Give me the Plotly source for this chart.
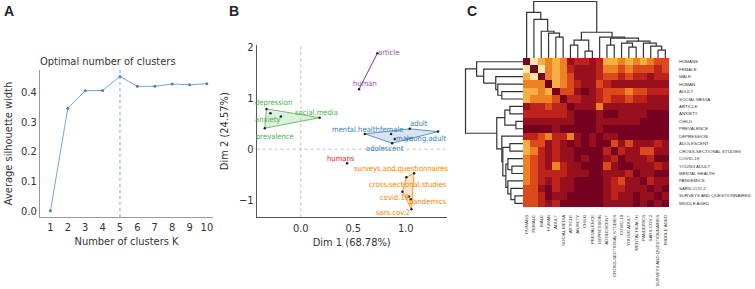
import plotly.graph_objects as go

W, H = 755, 289
def fx(x): return x / W
def fy(y): return 1 - y / H

# ---------------- Panel A data ----------------
k_values = [1, 2, 3, 4, 5, 6, 7, 8, 9, 10]
silhouette = [0.0, 0.346, 0.405, 0.406, 0.453, 0.420, 0.420, 0.428, 0.425, 0.429]
optimal_k = 5

# ---------------- Panel B data ----------------
terms = ["article", "human",
         "depression", "child", "anxiety", "prevalence", "social.media",
         "mental.health", "female", "adult", "young.adult", "male", "adolescent",
         "humans",
         "surveys.and.questionnaires", "cross.sectional.studies", "covid.19",
         "pandemics", "sars.cov.2", "middle.aged"]
dim1 = [0.73, 0.555,
        -0.327, -0.289, -0.19, -0.343, 0.18,
        0.61, 0.86, 1.038, 1.308, 0.895, 0.87,
        0.441,
        1.079, 1.006, 0.968, 1.048, 1.054, 1.031]
dim2 = [1.89, 1.181,
        0.793, 0.709, 0.642, 0.413, 0.62,
        0.301, 0.30, 0.40, 0.346, 0.203, 0.118,
        -0.276,
        -0.472, -0.551, -0.835, -0.984, -1.181, -0.93]
cluster = [5, 5,
           3, 3, 3, 3, 3,
           2, 2, 2, 2, 2, 2,
           1,
           4, 4, 4, 4, 4, 4]
shown_label = [True, True,
               True, False, True, True, True,
               True, True, True, True, True, True,
               True,
               True, True, True, True, True, False]

# ---------------- Panel C data ----------------
heat_labels = ["HUMANS", "FEMALE", "MALE", "HUMAN", "ADULT", "SOCIAL MEDIA",
               "ARTICLE", "ANXIETY", "CHILD", "PREVALENCE", "DEPRESSION",
               "ADOLESCENT", "CROSS-SECTIONAL STUDIES", "COVID-19", "YOUNG ADULT",
               "MENTAL HEALTH", "PANDEMICS", "SARS-COV-2",
               "SURVEYS AND QUESTIONNAIRES", "MIDDLE AGED"]
heat_values = [
    [0, 6, 5, 4, 5, 4, 1, 2, 2, 1, 2, 5, 5, 4, 5, 4, 5, 4, 3, 3],
    [6, 0, 6, 4, 5, 4, 2, 1, 1, 1, 2, 4, 4, 3, 4, 3, 3, 3, 2, 3],
    [5, 6, 0, 4, 5, 4, 3, 1, 1, 1, 2, 3, 3, 2, 3, 2, 2, 1, 2, 2],
    [4, 4, 4, 0, 5, 4, 3, 2, 1, 1, 3, 2, 1, 1, 1, 1, 1, 1, 1, 1],
    [5, 5, 4, 5, 0, 3, 3, 1, 0, 1, 2, 3, 3, 3, 4, 3, 3, 2, 2, 2],
    [5, 4, 4, 4, 3, 0, 2, 2, 1, 1, 2, 3, 2, 2, 3, 2, 2, 1, 1, 1],
    [1, 2, 2, 3, 2, 2, 0, 1, 1, 1, 4, 1, 1, 1, 1, 1, 1, 1, 1, 1],
    [2, 2, 2, 2, 2, 2, 1, 0, 0, 0, 1, 0, 0, 1, 1, 1, 1, 0, 0, 0],
    [1, 1, 1, 1, 1, 1, 1, 0, 0, 0, 1, 1, 1, 1, 1, 1, 0, 0, 0, 0],
    [0, 0, 0, 0, 1, 0, 0, 0, 0, 0, 1, 0, 0, 0, 0, 0, 0, 0, 0, 0],
    [2, 2, 3, 4, 2, 2, 4, 1, 0, 1, 0, 1, 1, 0, 0, 0, 0, 0, 0, 0],
    [5, 3, 3, 1, 2, 1, 0, 1, 0, 1, 0, 0, 3, 1, 3, 1, 1, 1, 2, 1],
    [5, 4, 2, 1, 2, 1, 1, 0, 0, 0, 0, 2, 0, 2, 1, 1, 3, 3, 1, 1],
    [4, 3, 2, 1, 2, 1, 1, 0, 1, 0, 0, 1, 2, 0, 1, 1, 1, 2, 0, 0],
    [4, 3, 2, 1, 4, 2, 1, 1, 0, 0, 0, 3, 1, 0, 0, 1, 1, 1, 2, 1],
    [4, 3, 2, 2, 2, 2, 1, 1, 1, 0, 0, 1, 1, 1, 2, 0, 1, 1, 0, 0],
    [4, 3, 2, 1, 2, 1, 1, 0, 0, 0, 0, 1, 2, 3, 1, 1, 0, 2, 1, 1],
    [3, 3, 1, 0, 2, 1, 1, 0, 0, 0, 0, 1, 2, 2, 1, 1, 1, 0, 1, 0],
    [3, 3, 2, 0, 1, 1, 0, 0, 0, 0, 0, 1, 2, 1, 1, 0, 1, 1, 0, 1],
    [3, 3, 2, 1, 2, 0, 0, 0, 0, 0, 0, 1, 1, 1, 1, 0, 1, 0, 1, 0],
]
# dendrogram merges: (child_a, child_b, height); nodes numbered from 20 upward
merges = [
    (4, 5, 21), (3, 20, 25), (2, 21, 27), (1, 22, 39), (0, 23, 46),
    (6, 7, 13), (8, 9, 7), (25, 26, 18),
    (11, 12, 13), (14, 15, 11), (13, 29, 15), (18, 19, 8), (17, 31, 12),
    (16, 32, 15), (30, 33, 17), (28, 34, 20), (10, 35, 21), (27, 36, 26),
    (24, 37, 57),
]

# ---------------- styles ----------------
FONT = "DejaVu Sans Condensed, DejaVu Sans, Liberation Sans"
NARROW = "DejaVu Sans Condensed, Liberation Sans"
set1 = {1: "#E41A1C", 2: "#377EB8", 3: "#4DAF4A", 4: "#FF7F00", 5: "#984EA3"}
fill = {1: "rgba(228,26,28,0.2)", 2: "rgba(55,126,184,0.2)", 3: "rgba(77,175,74,0.2)",
        4: "rgba(255,127,0,0.2)", 5: "rgba(152,78,163,0.2)"}
# label offsets in pixels (dx right, dy down) relative to each point
label_offsets = [(11, -1), (6, -6),
                 (7, -6), (0, 0), (-13, 3), (10, 8), (-3, -5),
                 (-9, -4), (1, -4), (9, -5), (-13, 7), (10, 0), (-7, 5),
                 (-6, -5),
                 (-13, -5), (2, 7), (-8, 6), (17, 2), (-18, 3), (0, 0)]

fig = go.Figure()

# ---------------- Panel A ----------------
fig.add_trace(go.Scatter(x=k_values, y=silhouette, mode="lines+markers",
                         line=dict(color="#7aa5d6", width=1),
                         marker=dict(color="#4f7fb5", size=3),
                         xaxis="x", yaxis="y", showlegend=False))
fig.add_shape(type="line", xref="x", yref="y domain", x0=optimal_k, x1=optimal_k,
              y0=0, y1=1, line=dict(color="#7aa5d6", width=1, dash="dot"))

# ---------------- Panel B ----------------
def hull(points):
    pts = sorted(set(points))
    if len(pts) <= 2:
        return pts
    def cross(o, a, b):
        return (a[0]-o[0])*(b[1]-o[1]) - (a[1]-o[1])*(b[0]-o[0])
    lower, upper = [], []
    for p in pts:
        while len(lower) >= 2 and cross(lower[-2], lower[-1], p) <= 0:
            lower.pop()
        lower.append(p)
    for p in reversed(pts):
        while len(upper) >= 2 and cross(upper[-2], upper[-1], p) <= 0:
            upper.pop()
        upper.append(p)
    return lower[:-1] + upper[:-1]

for c in [1, 2, 3, 4, 5]:
    pts = [(dim1[i], dim2[i]) for i in range(len(terms)) if cluster[i] == c]
    hp = hull(pts)
    if len(hp) >= 2:
        hx = [p[0] for p in hp] + [hp[0][0]]
        hy = [p[1] for p in hp] + [hp[0][1]]
        fig.add_trace(go.Scatter(x=hx, y=hy, mode="lines", fill="toself",
                                 fillcolor=fill[c], line=dict(color=set1[c], width=0.8),
                                 xaxis="x2", yaxis="y2", showlegend=False, hoverinfo="skip"))

fig.add_trace(go.Scatter(x=dim1, y=dim2, mode="markers",
                         marker=dict(color="#222", size=2.5),
                         xaxis="x2", yaxis="y2", showlegend=False))
for i, t in enumerate(terms):
    if not shown_label[i]:
        continue
    dx, dy = label_offsets[i]
    fig.add_annotation(x=dim1[i], y=dim2[i], xref="x2", yref="y2", text=t,
                       showarrow=False, xshift=dx, yshift=-dy,
                       xanchor="center", yanchor="middle",
                       font=dict(family=NARROW, size=7.6, color=set1[cluster[i]]))

fig.add_shape(type="line", xref="x2", yref="y2 domain", x0=0, x1=0, y0=0, y1=1,
              line=dict(color="#bbbbbb", width=1, dash="dot"))
fig.add_shape(type="line", xref="x2 domain", yref="y2", x0=0, x1=1, y0=0, y1=0,
              line=dict(color="#bbbbbb", width=1, dash="dot"))

# ---------------- Panel C ----------------
n = len(heat_labels)
pos = {i: float(i) for i in range(n)}
hgt = {i: 0.0 for i in range(n)}
seg_a, seg_b = [], []
for k, (a, b, h) in enumerate(merges):
    node = n + k
    seg_a += [pos[a], pos[a], pos[b], pos[b], None]
    seg_b += [hgt[a], h, h, hgt[b], None]
    pos[node] = (pos[a] + pos[b]) / 2
    hgt[node] = h

fig.add_trace(go.Scatter(x=seg_a, y=seg_b, mode="lines",
                         line=dict(color="#333333", width=1.2),
                         xaxis="x4", yaxis="y4", showlegend=False, hoverinfo="skip"))
fig.add_trace(go.Scatter(x=seg_b, y=seg_a, mode="lines",
                         line=dict(color="#333333", width=1.2),
                         xaxis="x5", yaxis="y5", showlegend=False, hoverinfo="skip"))

heat_scale = [
    [0.0, "#760020"], [1/12, "#760020"],
    [1/12, "#980f1e"], [3/12, "#980f1e"],
    [3/12, "#bd231a"], [5/12, "#bd231a"],
    [5/12, "#dc4a1c"], [7/12, "#dc4a1c"],
    [7/12, "#ee8026"], [9/12, "#ee8026"],
    [9/12, "#f6ae45"], [11/12, "#f6ae45"],
    [11/12, "#fde6a6"], [1.0, "#fde6a6"],
]
fig.add_trace(go.Heatmap(z=heat_values, x=list(range(n)), y=list(range(n)),
                         zmin=0, zmax=6, colorscale=heat_scale, showscale=False,
                         xaxis="x3", yaxis="y3"))

# ---------------- layout ----------------
tickfont = dict(family=FONT, size=11, color="#333")
titlefont = dict(family=FONT, size=11, color="#333")
heat_font = dict(family="Liberation Sans, Arial", size=4.4, color="#333")

fig.update_layout(
    width=W, height=H, margin=dict(l=0, r=0, t=0, b=0, autoexpand=False),
    paper_bgcolor="white", plot_bgcolor="white",
    xaxis=dict(domain=[fx(40), fx(213)], range=[0.4, 10.35], tickvals=k_values,
               showgrid=False, zeroline=False, showline=True, linecolor="#999",
               tickfont=tickfont, ticks="", automargin=False, anchor="y",
               title=dict(text="Number of clusters K", font=titlefont, standoff=4)),
    yaxis=dict(domain=[fy(217), fy(70)], range=[-0.021, 0.475],
               tickvals=[0, 0.1, 0.2, 0.3, 0.4], ticktext=["0.0", "0.1", "0.2", "0.3", "0.4"],
               showgrid=False, zeroline=False, showline=True, linecolor="#999",
               tickfont=tickfont, ticks="", automargin=False, anchor="x",
               title=dict(text="Average silhouette width", font=titlefont, standoff=6)),
    xaxis2=dict(domain=[fx(256.7), fx(446.7)], range=[-0.42, 1.39],
                tickvals=[0, 0.5, 1.0], ticktext=["0.0", "0.5", "1.0"],
                showgrid=False, zeroline=False, showline=True, linecolor="#555",
                tickfont=tickfont, ticks="", automargin=False, anchor="y2",
                title=dict(text="Dim 1 (68.78%)", font=titlefont, standoff=4)),
    yaxis2=dict(domain=[fy(217.3), fy(45)], range=[-1.34, 2.05],
                tickvals=[-1, 0, 1, 2],
                showgrid=False, zeroline=False, showline=True, linecolor="#555",
                tickfont=tickfont, ticks="", automargin=False, anchor="x2",
                title=dict(text="Dim 2 (24.57%)", font=titlefont, standoff=8)),
    xaxis3=dict(domain=[fx(523), fx(669)], range=[-0.5, n - 0.5],
                tickvals=list(range(n)), ticktext=heat_labels, tickangle=-90,
                tickfont=heat_font, ticks="", showgrid=False, zeroline=False,
                ticklabelstandoff=6, automargin=False, anchor="y3"),
    yaxis3=dict(domain=[fy(207), fy(58)], range=[n - 0.5, -0.5],
                tickvals=list(range(n)), ticktext=heat_labels, side="right",
                tickfont=heat_font, ticks="", showgrid=False, zeroline=False,
                anchor="x3", ticklabelstandoff=9, automargin=False),
    xaxis4=dict(domain=[fx(523), fx(669)], range=[-0.5, n - 0.5], visible=False,
                anchor="y4", automargin=False),
    yaxis4=dict(domain=[fy(58), fy(1)], range=[0, 57.5], visible=False, anchor="x4",
                automargin=False),
    xaxis5=dict(domain=[fx(464), fx(523)], range=[58.5, 0], visible=False, anchor="y5",
                automargin=False),
    yaxis5=dict(domain=[fy(207), fy(58)], range=[n - 0.5, -0.5], visible=False,
                anchor="x5", automargin=False),
)

# titles and panel letters
fig.add_annotation(x=fx(38), y=fy(62), xref="paper", yref="paper",
                   xanchor="left", yanchor="middle",
                   text="Optimal number of clusters", showarrow=False,
                   font=dict(family=FONT, size=11, color="#333"))
for letter, xx in [("A", 2), ("B", 227), ("C", 465)]:
    fig.add_annotation(x=fx(xx), y=fy(11), xref="paper", yref="paper",
                       xanchor="left", yanchor="middle",
                       text="<b>%s</b>" % letter, showarrow=False,
                       font=dict(family="Liberation Sans, Arial", size=14, color="#222"))

fig.write_html("out.html", config={"displayModeBar": False},
               post_script="document.body.style.margin='0';document.body.style.overflow='hidden';")
